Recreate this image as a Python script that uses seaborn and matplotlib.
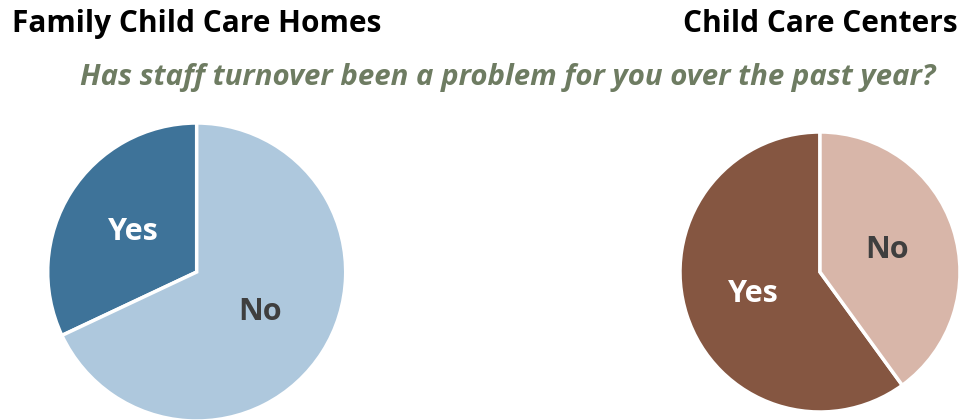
import matplotlib
matplotlib.use("Agg")
import seaborn as sns
import matplotlib.pyplot as plt

# survey answers (share of respondents)
labels = ["Yes", "No"]
homes_share = [32, 68]
centers_share = [60, 40]

homes_colors = ["#3E7399", "#AEC8DD"]
centers_colors = ["#855641", "#D8B6A9"]
label_colors = ["white", "#3F3F3F"]

sns.set_style("white")
plt.rcParams["font.family"] = ["Open Sans", "DejaVu Sans"]

fig = plt.figure(figsize=(9.61, 4.2), dpi=100)

fig.text(0.012, 0.942, "Family Child Care Homes", fontsize=21.5, fontweight="bold",
         color="black", ha="left", va="center")
fig.text(0.997, 0.942, "Child Care Centers", fontsize=21.5, fontweight="bold",
         color="black", ha="right", va="center")
fig.text(0.528, 0.815, "Has staff turnover been a problem for you over the past year?",
         fontsize=21.2, fontweight="bold", fontstyle="italic", color="#6E7C62",
         ha="center", va="center")


def draw_pie(rect, values, colors):
    ax = fig.add_axes(rect)
    wedges, texts = ax.pie(values, labels=labels, colors=colors, startangle=90,
                           counterclock=True, labeldistance=0.5,
                           wedgeprops=dict(edgecolor="white", linewidth=2.5),
                           textprops=dict(fontsize=22, fontweight="bold"))
    for t, c in zip(texts, label_colors):
        t.set_color(c)
        t.set_ha("center")
        t.set_va("center")
    ax.set_xlim(-1.0, 1.0)
    ax.set_ylim(-1.0, 1.0)
    ax.set_aspect("equal")
    ax.axis("off")
    return ax


draw_pie([47.7 / 961, -1 / 420, 298 / 961, 298 / 420], homes_share, homes_colors)
draw_pie([680 / 961, 8 / 420, 280 / 961, 280 / 420], centers_share, centers_colors)

fig.savefig("out.png", dpi=100)
